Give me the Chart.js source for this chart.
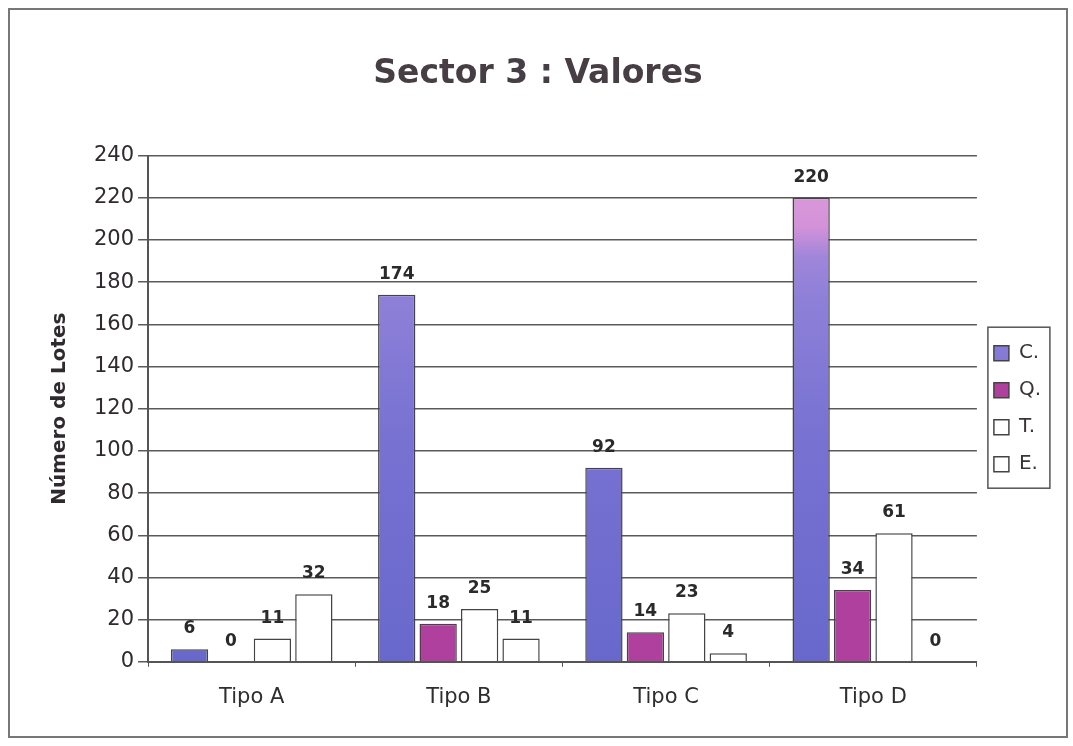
<!DOCTYPE html>
<html>
<head>
<meta charset="utf-8">
<script src="https://cdn.jsdelivr.net/npm/chart.js@4.4.0/dist/chart.umd.min.js"></script>
<style>
	body{margin:0;background:#fff;}
	#wrap{position:absolute;left:0;top:0;width:1073px;height:746px;}
</style>
</head>
<body>
<div id="wrap"><canvas id="sector_chart" width="1073" height="746"></canvas></div>
<script>
// data
let categories = ['Tipo A', 'Tipo B', 'Tipo C', 'Tipo D'];
let seriesNames = ['C.', 'Q.', 'T.', 'E.'];
let valuesC = [6, 174, 92, 220];
let valuesQ = [0, 18, 14, 34];
let valuesT = [11, 25, 23, 61];
let valuesE = [32, 11, 4, 0];
let yTicks = [0, 20, 40, 60, 80, 100, 120, 140, 160, 180, 200, 220, 240];

let FONT = '"DejaVu Sans", "Liberation Sans", Arial, sans-serif';

window.onload = function(){
	drawChart();
};

function gradientC(context){
	let chart = context.chart;
	let area = chart.chartArea;
	if(!area){
		return '#7070d0';
	}
	let g = chart.ctx.createLinearGradient(0, area.bottom, 0, area.top);
	g.addColorStop(0, '#6868cc');
	g.addColorStop(0.45, '#7872d2');
	g.addColorStop(0.72, '#8e80d8');
	g.addColorStop(0.8, '#a086da');
	g.addColorStop(0.86, '#d492d8');
	g.addColorStop(1, '#dca2dc');
	return g;
}

// value labels above each bar
let barLabels = {
	id: 'barLabels',
	afterDatasetsDraw: function(chart){
		let ctx = chart.ctx;
		ctx.save();
		ctx.font = 'bold 17px ' + FONT;
		ctx.fillStyle = '#2a2a2a';
		ctx.textAlign = 'center';
		ctx.textBaseline = 'bottom';
		chart.data.datasets.forEach(function(ds, i){
			let meta = chart.getDatasetMeta(i);
			meta.data.forEach(function(bar, j){
				ctx.fillText(String(ds.data[j]), bar.x, bar.y - 12);
			});
		});
		ctx.restore();
	}
};

// outer frame and legend frame
let frames = {
	id: 'frames',
	beforeDraw: function(chart){
		let ctx = chart.ctx;
		ctx.save();
		ctx.fillStyle = '#fff';
		ctx.fillRect(0, 0, chart.width, chart.height);
		ctx.strokeStyle = '#777';
		ctx.lineWidth = 2;
		ctx.strokeRect(9, 9, 1058, 728);
		ctx.restore();
	},
	afterDraw: function(chart){
		let boxes = chart.legend.legendHitBoxes;
		if(!boxes || !boxes.length){
			return;
		}
		let top = boxes[0].top - 16;
		let last = boxes[boxes.length - 1];
		let bottom = last.top + last.height + 14;
		let left = boxes[0].left - 6;
		let ctx = chart.ctx;
		ctx.save();
		ctx.strokeStyle = '#555';
		ctx.lineWidth = 1.5;
		ctx.strokeRect(left, top, 62, bottom - top);
		ctx.restore();
	}
};

function drawChart(){
	let ctx = document.getElementById('sector_chart').getContext('2d');

	let datasets = [
		{'label': seriesNames[0], 'data': valuesC, 'backgroundColor': gradientC},
		{'label': seriesNames[1], 'data': valuesQ, 'backgroundColor': '#b0409e'},
		{'label': seriesNames[2], 'data': valuesT, 'backgroundColor': '#ffffff'},
		{'label': seriesNames[3], 'data': valuesE, 'backgroundColor': '#ffffff'}
	];
	datasets.forEach(function(ds){
		ds.borderColor = '#444';
		ds.borderWidth = 1.5;
		ds.categoryPercentage = 0.8;
		ds.barPercentage = 0.9;
	});

	new Chart(ctx, {
		'type': 'bar',
		'data': {'labels': categories, 'datasets': datasets},
		'plugins': [frames, barLabels],
		'options': {
			'responsive': false,
			'animation': false,
			'layout': {'padding': {'top': 22, 'left': 25, 'right': 22, 'bottom': 18}},
			'plugins': {
				'title': {
					'display': true,
					'text': 'Sector 3 : Valores',
					'color': '#463e44',
					'font': {'family': FONT, 'size': 33, 'weight': 'bold'},
					'padding': {'top': 33, 'bottom': 61}
				},
				'legend': {
					'position': 'right',
					'fullSize': false,
					'labels': {
						'color': '#3a3438',
						'boxWidth': 15,
						'boxHeight': 15,
						'padding': 17,
						'font': {'family': FONT, 'size': 20}
					}
				},
				'tooltip': {'enabled': false}
			},
			'scales': {
				'x': {
					'grid': {'display': true, 'drawOnChartArea': false, 'offset': true, 'color': '#555', 'tickLength': 5},
					'border': {'color': '#555', 'width': 2},
					'ticks': {
						'color': '#2e2e2e',
						'padding': 18,
						'font': {'family': FONT, 'size': 21}
					}
				},
				'y': {
					'min': 0,
					'max': 240,
					'afterBuildTicks': function(axis){
						axis.ticks = yTicks.map(function(v){ return {'value': v}; });
					},
					'grid': {'color': '#5a5a5a', 'lineWidth': 1.5, 'tickLength': 10},
					'border': {'color': '#555', 'width': 2},
					'ticks': {
						'color': '#2e2a2e',
						'padding': 4,
						'font': {'family': FONT, 'size': 21}
					},
					'title': {
						'display': true,
						'text': 'Número de Lotes',
						'color': '#2e2a2e',
						'padding': {'top': 23, 'bottom': 18},
						'font': {'family': FONT, 'size': 20, 'weight': 'bold'}
					}
				}
			}
		}
	});
}
</script>
</body>
</html>
